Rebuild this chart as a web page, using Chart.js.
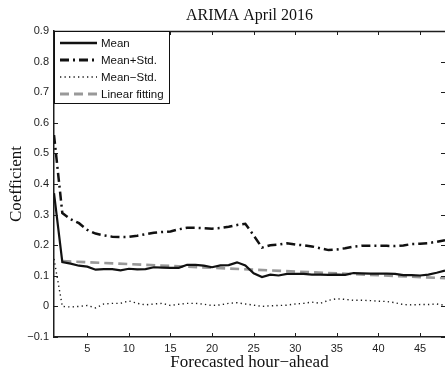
<!DOCTYPE html>
<html><head><meta charset="utf-8">
<script src="https://cdn.jsdelivr.net/npm/chart.js@4/dist/chart.umd.min.js"></script>
<style>html,body{margin:0;padding:0;background:#fff}#wrap{width:445px;height:375px}</style>
</head><body><div id="wrap"><canvas id="c" width="445" height="375"></canvas></div>
<script>
const titleText = 'ARIMA April 2016';
const xTitle = 'Forecasted hour\u2212ahead';
const yTitle = 'Coefficient';
const hours = [1,2,3,4,5,6,7,8,9,10,11,12,13,14,15,16,17,18,19,20,21,22,23,24,25,26,27,28,29,30,31,32,33,34,35,36,37,38,39,40,41,42,43,44,45,46,47,48];
const meanVals = [0.37,0.145,0.140,0.133,0.130,0.120,0.122,0.122,0.118,0.123,0.121,0.122,0.128,0.127,0.126,0.126,0.136,0.136,0.133,0.128,0.134,0.135,0.144,0.134,0.108,0.096,0.104,0.101,0.106,0.106,0.106,0.104,0.104,0.103,0.104,0.103,0.109,0.108,0.107,0.107,0.107,0.106,0.102,0.102,0.101,0.104,0.110,0.117];
const meanPlusStd = [0.56,0.305,0.285,0.272,0.250,0.238,0.232,0.228,0.227,0.227,0.231,0.236,0.241,0.243,0.245,0.252,0.257,0.257,0.256,0.254,0.256,0.260,0.266,0.270,0.232,0.192,0.200,0.202,0.206,0.202,0.200,0.196,0.190,0.184,0.186,0.190,0.195,0.198,0.198,0.198,0.198,0.197,0.199,0.204,0.205,0.207,0.211,0.216];
const meanMinusStd = [0.155,0.0,-0.002,0.0,0.003,-0.005,0.008,0.010,0.010,0.018,0.010,0.005,0.008,0.010,0.003,0.007,0.010,0.010,0.007,0.003,0.005,0.010,0.012,0.008,0.004,0.0,0.002,0.003,0.004,0.008,0.010,0.014,0.010,0.020,0.025,0.023,0.020,0.020,0.019,0.017,0.016,0.012,0.006,0.005,0.006,0.006,0.008,0.003];
const fitHours = [2,48];
const fitVals = [0.148,0.092];
const xTickVals = [5,10,15,20,25,30,35,40,45];
const yTickVals = [-0.1,0,0.1,0.2,0.3,0.4,0.5,0.6,0.7,0.8,0.9];
const yTickLabels = ['\u22120.1','0','0.1','0.2','0.3','0.4','0.5','0.6','0.7','0.8','0.9'];
const seriesNames = ['Mean','Mean+Std.','Mean\u2212Std.','Linear fitting'];

const pts = (xs, ys) => xs.map((x,i)=>({x:x,y:ys[i]}));
const AX = '#1e1e1e';
const TXT = '#1e1e1e';

const overlay = {
  id:'overlay',
  afterDraw(chart){
    const ctx = chart.ctx, a = chart.chartArea;
    const xs = chart.scales.x, ys = chart.scales.y;
    ctx.save();
    ctx.strokeStyle = AX; ctx.lineWidth = 1.3;
    ctx.beginPath(); ctx.moveTo(a.left, a.top+0.5); ctx.lineTo(a.right, a.top+0.5); ctx.stroke();
    ctx.lineWidth = 1;
    xTickVals.forEach(v=>{
      const px = Math.round(xs.getPixelForValue(v))+0.5;
      ctx.beginPath(); ctx.moveTo(px, a.bottom); ctx.lineTo(px, a.bottom-4); ctx.stroke();
      ctx.beginPath(); ctx.moveTo(px, a.top); ctx.lineTo(px, a.top+4); ctx.stroke();
    });
    yTickVals.forEach(v=>{
      const py = Math.round(ys.getPixelForValue(v))+0.5;
      ctx.beginPath(); ctx.moveTo(a.left, py); ctx.lineTo(a.left+4, py); ctx.stroke();
      ctx.beginPath(); ctx.moveTo(a.right, py); ctx.lineTo(a.right-4, py); ctx.stroke();
    });
    ctx.fillStyle = '#111';
    ctx.font = '16px "Liberation Serif", serif';
    ctx.textAlign = 'center'; ctx.textBaseline = 'middle';
    ctx.fillText(titleText, (a.left+a.right)/2, 16);
    const lx = a.left, ly = a.top, lw = 115, lh = 72;
    ctx.fillStyle = '#fff';
    ctx.fillRect(lx, ly, lw, lh);
    ctx.strokeStyle = '#111'; ctx.lineWidth = 1;
    ctx.strokeRect(lx+0.5, ly+0.5, lw, lh);
    ctx.font = '11.5px "Liberation Sans", Arial, sans-serif';
    ctx.textAlign = 'left';
    chart.data.datasets.forEach((ds,i)=>{
      const yy = ly + 12 + i*17;
      ctx.save();
      ctx.strokeStyle = ds.borderColor; ctx.lineWidth = ds.borderWidth + 0.3;
      ctx.setLineDash(ds.borderDash || []);
      ctx.beginPath(); ctx.moveTo(lx+6, yy); ctx.lineTo(lx+43, yy); ctx.stroke();
      ctx.restore();
      ctx.fillStyle = '#111';
      ctx.fillText(ds.label, lx+47, yy+0.5);
    });
    ctx.restore();
  }
};

new Chart(document.getElementById('c'), {
  type:'line',
  data:{ datasets:[
    {label:seriesNames[0], data:pts(hours, meanVals), borderColor:'#111', borderWidth:2.2, borderDash:[], pointRadius:0, tension:0},
    {label:seriesNames[1], data:pts(hours, meanPlusStd), borderColor:'#111', borderWidth:2.5, borderDash:[9,4,2,4], pointRadius:0, tension:0},
    {label:seriesNames[2], data:pts(hours, meanMinusStd), borderColor:'#1a1a1a', borderWidth:1.4, borderDash:[1.3,3.2], pointRadius:0, tension:0},
    {label:seriesNames[3], data:pts(fitHours, fitVals), borderColor:'#999999', borderWidth:2.6, borderDash:[9,5], pointRadius:0, tension:0}
  ]},
  options:{
    responsive:false, animation:false,
    layout:{padding:{top:31,right:0,bottom:0,left:0}},
    plugins:{legend:{display:false}, title:{display:false}, tooltip:{enabled:false}},
    scales:{
      x:{type:'linear', min:1, max:48,
        afterBuildTicks:s=>{s.ticks = xTickVals.map(v=>({value:v}));},
        afterFit:s=>{s.height = 38;},
        grid:{display:false, drawTicks:false},
        border:{display:true, color:AX, width:1.5},
        ticks:{padding:5, color:TXT, font:{family:'"Liberation Sans", Arial, sans-serif', size:11}, maxRotation:0, autoSkip:false},
        title:{display:true, text:xTitle, color:'#111', font:{family:'"Liberation Serif", serif', size:17}, padding:{top:0,bottom:2}}
      },
      y:{type:'linear', min:-0.1, max:0.9,
        afterBuildTicks:s=>{s.ticks = yTickVals.map(v=>({value:v}));},
        afterFit:s=>{s.width = 54;},
        grid:{display:false, drawTicks:false},
        border:{display:true, color:AX, width:1.5},
        ticks:{padding:5, color:TXT, font:{family:'"Liberation Sans", Arial, sans-serif', size:11}, autoSkip:false,
          callback:(v)=>{const i = yTickVals.findIndex(t=>Math.abs(t-v)<1e-9); return i>=0 ? yTickLabels[i] : '';}},
        title:{display:true, text:yTitle, color:'#111', font:{family:'"Liberation Serif", serif', size:17}, padding:{top:6,bottom:0}}
      }
    }
  },
  plugins:[overlay]
});
</script></body></html>
